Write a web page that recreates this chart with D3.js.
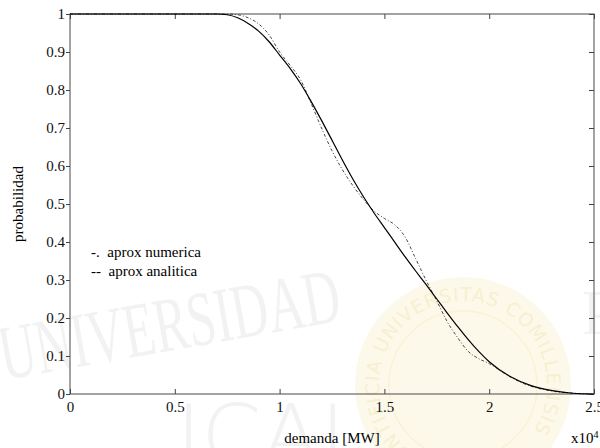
<!DOCTYPE html>
<html>
<head>
<meta charset="utf-8">
<script src="https://cdn.jsdelivr.net/npm/d3@7"></script>
<style>
  body { margin: 0; background: #fff; }
  text { font-family: "Liberation Serif", "Times New Roman", serif; }
</style>
</head>
<body>
<div id="chart"></div>
<script>
// demanda en unidades de 10^4 MW
const demanda = [0, 0.7, 0.75, 0.8, 0.85, 0.9, 0.95, 1.0, 1.05, 1.1, 1.15, 1.2, 1.25, 1.3, 1.35, 1.4,
  1.45, 1.5, 1.55, 1.6, 1.65, 1.7, 1.75, 1.8, 1.85, 1.9, 1.95, 2.0, 2.1, 2.2, 2.3, 2.4, 2.5];
const probAnalitica = [1, 1, 0.998, 0.99, 0.975, 0.955, 0.927, 0.892, 0.857, 0.817, 0.77, 0.72, 0.668, 0.615, 0.565, 0.519,
  0.477, 0.438, 0.399, 0.36, 0.323, 0.287, 0.25, 0.213, 0.177, 0.143, 0.112, 0.085, 0.046, 0.022, 0.009, 0.002, 0];
const probNumerica = [1, 1, 1, 0.998, 0.99, 0.974, 0.945, 0.9, 0.865, 0.827, 0.765, 0.7, 0.64, 0.59, 0.548, 0.512,
  0.482, 0.462, 0.445, 0.412, 0.355, 0.298, 0.245, 0.19, 0.148, 0.112, 0.093, 0.08, 0.045, 0.02, 0.008, 0.002, 0];
const xTicks = [0, 0.5, 1, 1.5, 2, 2.5];
const yTicks = [0, 0.1, 0.2, 0.3, 0.4, 0.5, 0.6, 0.7, 0.8, 0.9, 1];
const legendItems = ["-.  aprox numerica", "--  aprox analitica"];

const width = 600, height = 448;
const margin = { left: 70, right: 6, top: 14, bottom: 54 };

const svg = d3.select("#chart").append("svg")
  .attr("width", width)
  .attr("height", height);

// marca de agua de fondo
const wm = svg.append("g");
wm.append("circle")
  .attr("cx", 463).attr("cy", 385).attr("r", 108)
  .style("fill", "#fdf9ea");
wm.append("circle")
  .attr("cx", 463).attr("cy", 385).attr("r", 74)
  .style("fill", "none").style("stroke", "#faf1d6").style("stroke-width", 1.5);
wm.append("path")
  .attr("id", "sealArc")
  .attr("d", d3.arc()({ innerRadius: 84, outerRadius: 84, startAngle: -Math.PI * 0.85, endAngle: Math.PI * 0.85 }))
  .attr("transform", "translate(463,385)")
  .style("fill", "none");
wm.append("text")
  .style("font-family", "'DejaVu Sans', sans-serif")
  .style("font-size", "19px").style("fill", "#f8efd0").style("letter-spacing", "1px")
  .append("textPath").attr("href", "#sealArc")
  .text("PONTIFICIA UNIVERSITAS COMILLENSIS");
wm.append("text")
  .attr("transform", "translate(4,380) rotate(-10)")
  .attr("textLength", 345)
  .attr("lengthAdjust", "spacingAndGlyphs")
  .style("font-size", "78px").style("fill", "#f2f2f2")
  .text("UNIVERSIDAD");
wm.append("text")
  .attr("x", 176).attr("y", 466)
  .style("font-family", "'DejaVu Sans', sans-serif")
  .style("font-size", "86px").style("font-weight", "200").style("fill", "#f2f2f2")
  .text("ICAI");
wm.append("text")
  .attr("x", 582).attr("y", 334)
  .style("font-size", "64px").style("fill", "#f2f2f2")
  .text("P");

const x = d3.scaleLinear().domain([0, 2.5]).range([margin.left, width - margin.right]);
const y = d3.scaleLinear().domain([0, 1]).range([height - margin.bottom, margin.top]);

const g = svg.append("g");

// caja de ejes
g.append("rect")
  .attr("x", x(0)).attr("y", y(1))
  .attr("width", x(2.5) - x(0)).attr("height", y(0) - y(1))
  .style("fill", "none").style("stroke", "#666").style("stroke-width", 1.2);

const fmt = d => d3.format("~g")(d);
const bottomAxis = d3.axisBottom(x).tickValues(xTicks).tickSize(-5).tickPadding(7).tickFormat(fmt);
const topAxis = d3.axisTop(x).tickValues(xTicks).tickSize(-5).tickFormat("");
const leftAxis = d3.axisLeft(y).tickValues(yTicks).tickSize(4).tickPadding(1).tickFormat(fmt);
const rightAxis = d3.axisRight(y).tickValues(yTicks).tickSize(-5).tickFormat("");

function styleAxis(sel) {
  sel.select(".domain").remove();
  sel.selectAll(".tick line").style("stroke", "#444");
  sel.selectAll(".tick text")
    .style("font-family", "'Liberation Serif', serif")
    .style("font-size", "15px")
    .style("fill", "#111");
}

g.append("g").attr("transform", `translate(0,${y(0)})`).call(bottomAxis).call(styleAxis);
g.append("g").attr("transform", `translate(0,${y(1)})`).call(topAxis).call(styleAxis);
g.append("g").attr("transform", `translate(${x(0)},0)`).call(leftAxis).call(styleAxis);
g.append("g").attr("transform", `translate(${x(2.5)},0)`).call(rightAxis).call(styleAxis);

// curvas
const line = d3.line()
  .x(d => x(d[0]))
  .y(d => y(d[1]))
  .curve(d3.curveMonotoneX);

g.append("path")
  .datum(d3.zip(demanda, probNumerica))
  .attr("d", line)
  .style("fill", "none")
  .style("stroke", "#333")
  .style("stroke-width", 0.9)
  .style("stroke-dasharray", "3,2,1,2");

g.append("path")
  .datum(d3.zip(demanda, probAnalitica))
  .attr("d", line)
  .style("fill", "none")
  .style("stroke", "#000")
  .style("stroke-width", 1.2);

// leyenda
g.selectAll(".leg")
  .data(legendItems)
  .enter()
  .append("text")
  .attr("x", 91)
  .attr("y", (d, i) => 257 + i * 19)
  .attr("xml:space", "preserve")
  .style("font-size", "15px")
  .style("white-space", "pre")
  .text(d => d);

// etiquetas
svg.append("text")
  .attr("transform", `translate(23,${(y(0) + y(1)) / 2}) rotate(-90)`)
  .attr("text-anchor", "middle")
  .style("font-size", "15px")
  .text("probabilidad");

svg.append("text")
  .attr("x", 332).attr("y", 443)
  .attr("text-anchor", "middle")
  .style("font-size", "15px")
  .text("demanda [MW]");

const exp = svg.append("text")
  .attr("x", 571).attr("y", 443)
  .style("font-size", "15px");
exp.append("tspan").text("x10");
exp.append("tspan").attr("dy", -5).style("font-size", "10px").text("4");
</script>
</body>
</html>
